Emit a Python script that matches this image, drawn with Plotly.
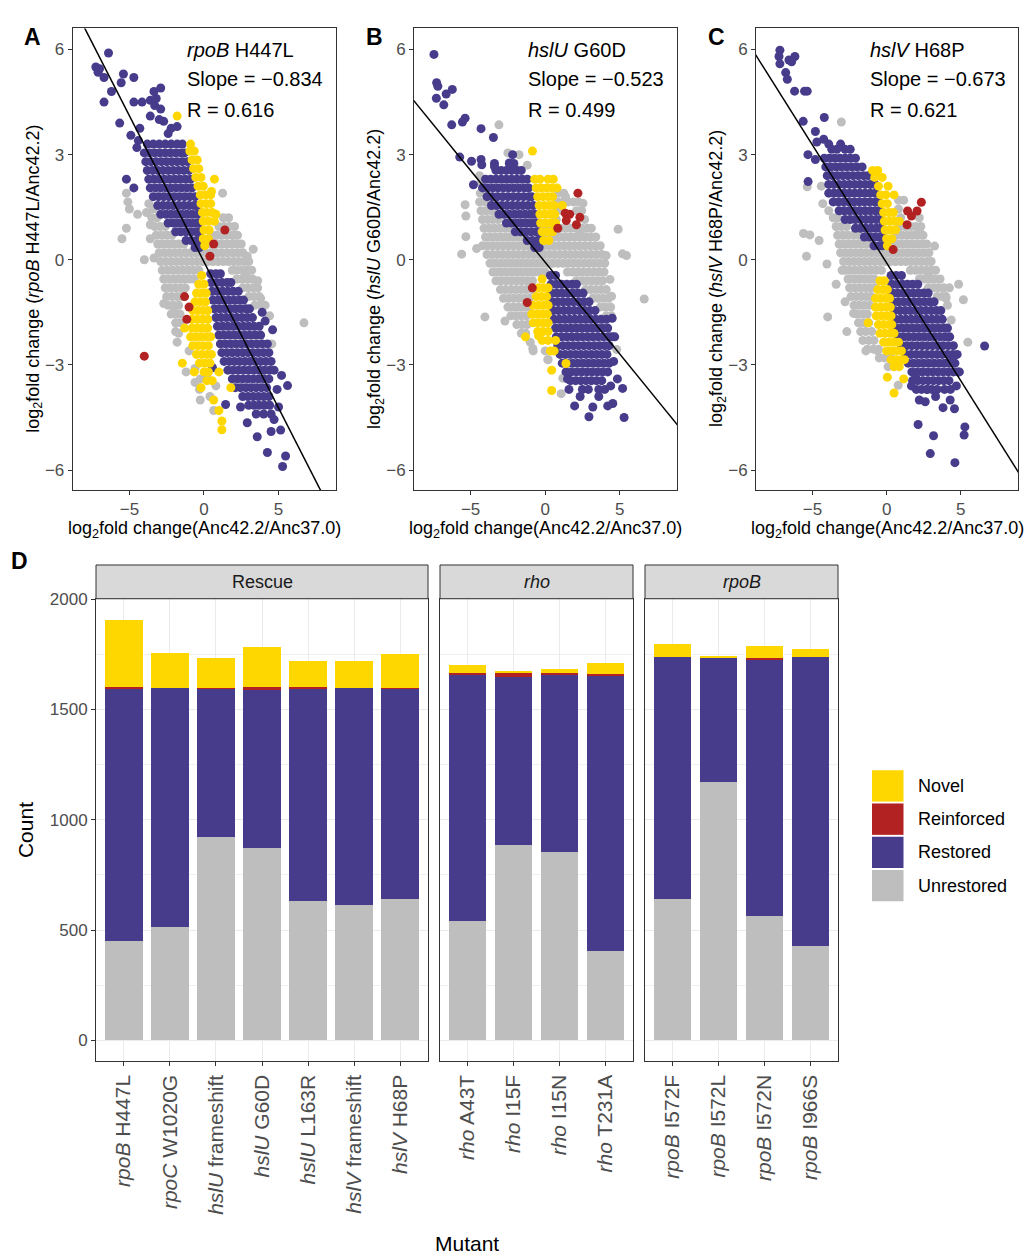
import plotly.graph_objects as go

W, H = 1030, 1256
FONT = "Liberation Sans, Arial, Helvetica, sans-serif"
TICKC = "#4D4D4D"
FRAME = "#333333"

# ---------------- category colours ----------------
categories = ["Novel", "Reinforced", "Restored", "Unrestored"]
cat_colors = ["#FFD700", "#B22222", "#463C8B", "#BEBEBE"]
COL = dict(zip(categories, cat_colors))

# ---------------- panels A-C: fit statistics ----------------
scatter_genes = ["rpoB", "hslU", "hslV"]
scatter_muts = ["H447L", "G60D", "H68P"]
slopes = [-0.834, -0.523, -0.673]
r_values = [0.616, 0.499, 0.621]
intercepts = [-0.06, -0.07, -0.09]
panel_letters = ["A", "B", "C"]

# ---------------- panel A points (rows: y, [x...]) + single points ----------------
A_unres_rows = [
    (1.2, [-3.5, -3.15, 1.3, 1.65]),
    (0.95, [-3.3, -2.95, -2.6, 1.0, 1.35, 1.7, 2.05]),
    (0.7, [-3.2, -2.85, -2.5, -2.15, 0.5, 0.85, 1.2, 1.55, 1.9, 2.25]),
    (0.45, [-3.1, -2.75, -2.4, -2.05, -1.7, -1.35, 0.1, 0.45, 0.8, 1.15, 1.5, 1.85, 2.2, 2.5]),
    (0.2, [-3.0, -2.65, -2.3, -1.95, -1.6, -1.25, -0.9, -0.55, -0.2, 0.15, 0.5, 0.85, 1.2, 1.55, 1.9, 2.25, 2.6]),
    (-0.05, [-2.9, -2.55, -2.2, -1.85, -1.5, -1.15, -0.8, -0.45, -0.1, 0.25, 0.6, 0.95, 1.3, 1.65, 2.0, 2.35, 2.7, 3.0]),
    (-0.3, [-2.8, -2.45, -2.1, -1.75, -1.4, -1.05, -0.7, -0.35, 1.9, 2.2, 2.55, 2.9, 3.2]),
    (-0.55, [-2.7, -2.35, -2.0, -1.65, -1.3, -0.95, -0.65, 2.2, 2.55, 2.9, 3.25]),
    (-0.8, [-2.6, -2.25, -1.9, -1.55, -1.25, 2.6, 2.95, 3.3, 3.6]),
    (-1.05, [-2.5, -2.15, -1.8, -1.5, 3.0, 3.35, 3.7]),
    (-1.3, [-2.4, -2.05, -1.7, 3.4, 3.8]),
    (-1.55, [-2.2, -1.85, -1.6]),
    (-1.8, [-1.9, -1.6]),
    (-2.1, [-1.7]),
]
A_unres_pts = [(-0.6, -3.1), (-0.25, -3.4), (-0.3, -3.7), (-0.25, -4.0), (0.65, -4.3), (-1.8, -2.35),
               (-1.9, -2.05), (0.2, -3.3), (-1.0, -2.6), (0.8, -3.6), (-5.2, 1.9), (-5.1, 1.65), (-5.0, 1.45),
               (-5.2, 0.9), (-5.5, 0.6), (-4.45, 1.3), (-4.0, 0.0), (-3.35, 0.05), (-3.85, 1.35), (1.25, 1.9),
               (2.0, 0.7), (2.9, 0.1), (3.6, -0.6), (3.8, -1.1), (6.7, -1.8), (4.55, -2.4), (2.8, -0.45),
               (-2.7, -1.25), (-2.0, -1.5), (3.3, 0.3), (4.1, -1.3), (4.4, -1.6), (-3.6, 0.6), (-3.7, 1.6),
               (-3.4, 1.45), (-3.6, 1.0), (-1.2, -3.2), (-0.6, -3.5), (0.4, -3.9)]
A_rest_rows = [
    (3.3, [-3.8, -3.4, -3.0, -2.6, -2.2, -1.8, -1.45]),
    (3.05, [-4.0, -3.65, -3.3, -2.95, -2.6, -2.25, -1.9, -1.55, -1.3]),
    (2.8, [-3.9, -3.55, -3.2, -2.85, -2.5, -2.15, -1.8, -1.45, -1.1]),
    (2.55, [-3.8, -3.45, -3.1, -2.75, -2.4, -2.05, -1.7, -1.35, -1.0]),
    (2.3, [-3.7, -3.35, -3.0, -2.65, -2.3, -1.95, -1.6, -1.25, -0.9]),
    (2.05, [-3.6, -3.25, -2.9, -2.55, -2.2, -1.85, -1.5, -1.15, -0.8]),
    (1.8, [-3.4, -3.05, -2.7, -2.35, -2.0, -1.65, -1.3, -0.95, -0.6]),
    (1.55, [-3.1, -2.75, -2.4, -2.05, -1.7, -1.35, -1.0, -0.65, -0.45]),
    (1.3, [-2.9, -2.55, -2.2, -1.85, -1.5, -1.15, -0.8, -0.45]),
    (1.05, [-2.4, -2.05, -1.7, -1.35, -1.0, -0.65, -0.35]),
    (0.8, [-1.9, -1.55, -1.2, -0.85, -0.5, -0.3]),
    (0.55, [-1.2, -0.85, -0.5, -0.3]),
    (0.35, [-0.6, -0.3]),
    (-0.4, [0.45, 0.8, 1.1]),
    (-0.65, [0.5, 0.85, 1.2, 1.55, 1.8]),
    (-0.9, [0.55, 0.9, 1.25, 1.6, 1.95, 2.3]),
    (-1.15, [0.6, 0.95, 1.3, 1.65, 2.0, 2.35, 2.65]),
    (-1.4, [0.7, 1.05, 1.4, 1.75, 2.1, 2.45, 2.8, 3.05]),
    (-1.65, [0.8, 1.15, 1.5, 1.85, 2.2, 2.55, 2.9, 3.25]),
    (-1.9, [0.9, 1.25, 1.6, 1.95, 2.3, 2.65, 3.0, 3.35, 3.7]),
    (-2.15, [1.0, 1.35, 1.7, 2.05, 2.4, 2.75, 3.1, 3.45, 3.8]),
    (-2.4, [1.1, 1.45, 1.8, 2.15, 2.5, 2.85, 3.2, 3.55, 3.9, 4.25]),
    (-2.65, [1.2, 1.55, 1.9, 2.25, 2.6, 2.95, 3.3, 3.65, 4.0, 4.35]),
    (-2.9, [1.35, 1.7, 2.05, 2.4, 2.75, 3.1, 3.45, 3.8, 4.15, 4.5]),
    (-3.15, [1.6, 1.95, 2.3, 2.65, 3.0, 3.35, 3.7, 4.05, 4.4, 4.7]),
    (-3.4, [1.9, 2.25, 2.6, 2.95, 3.3, 3.65, 4.0, 4.35]),
    (-3.65, [2.1, 2.45, 2.8, 3.15, 3.5, 3.85, 4.2]),
    (-3.9, [2.6, 2.95, 3.3, 3.65, 4.0, 4.35]),
    (-4.15, [3.0, 3.35, 3.7, 4.05, 4.4]),
    (-4.4, [3.5, 4.0, 4.5]),
]
A_rest_pts = [(-6.4, 5.9), (-7.25, 5.5), (-7.1, 5.35), (-6.7, 5.2), (-6.2, 4.8), (-6.7, 4.5), (-5.4, 5.3),
              (-4.7, 5.2), (-5.55, 5.05), (-4.7, 4.5), (-4.15, 4.5), (-3.35, 4.8), (-2.9, 4.9), (-3.3, 4.4),
              (-2.9, 4.3), (-2.7, 3.95), (-1.8, 3.8), (-5.65, 3.9), (-4.9, 3.55), (-4.3, 3.75), (-5.2, 2.3),
              (-4.7, 2.05), (-3.6, 4.1), (-3.0, 4.0), (-2.4, 3.6), (-2.2, 3.75), (-7.0, 5.45), (-3.6, 4.55),
              (-3.2, 4.6), (-4.4, 3.4), (-4.5, 3.2), (3.57, -5.05), (4.25, -5.5), (5.47, -5.6), (5.27, -5.9),
              (5.14, -4.86), (4.7, -4.56), (5.6, -3.59), (4.9, -3.7), (0.57, -3.08), (1.45, -4.13),
              (2.45, -4.2), (2.9, -4.65), (5.0, -4.2), (4.5, -4.9), (5.2, -3.3), (4.6, -2.0), (3.9, -1.5),
              (4.1, -1.75)]
A_novel_rows = [
    (3.3, [-0.9]), (3.1, [-0.95, -0.65]), (2.85, [-0.8, -0.45]), (2.6, [-0.7, -0.35]),
    (2.35, [-0.55, -0.2]), (2.1, [-0.4, -0.05]), (1.85, [-0.25, 0.1, 0.45]), (1.6, [-0.2, 0.15, 0.45]),
    (1.35, [-0.1, 0.2, 0.55]), (1.1, [-0.05, 0.3, 0.7]), (0.85, [0.0, 0.35]), (0.6, [-0.05, 0.3]),
    (0.4, [0.05]),
    (-0.45, [-0.15]), (-0.7, [-0.35, 0.0]), (-0.95, [-0.5, -0.15, 0.15]), (-1.2, [-0.6, -0.25, 0.1]),
    (-1.45, [-0.75, -0.4, -0.05, 0.25]), (-1.7, [-0.8, -0.45, -0.1, 0.25]),
    (-1.95, [-1.3, -0.8, -0.45, -0.1, 0.25]), (-2.2, [-0.9, -0.55, -0.2, 0.15, 0.45]),
    (-2.45, [-0.75, -0.4, -0.05, 0.3]), (-2.7, [-0.5, -0.15, 0.2, 0.5]), (-2.95, [-1.45, -0.3, 0.05, 0.4]),
    (-3.2, [-0.65, 0.0, 0.3, 1.0]), (-3.45, [0.2, 0.55]), (-3.65, [-0.2, 1.8]), (-4.0, [0.65]),
    (-4.3, [1.0]), (-4.6, [1.2]), (-4.85, [1.2]),
]
A_novel_pts = [(-1.8, 4.1), (0.8, 1.3), (0.7, 2.3), (0.5, 1.95)]
A_reinf_pts = [(1.4, 0.85), (0.65, 0.45), (0.4, 0.1), (-1.3, -1.05), (-1.0, -1.35), (-1.15, -1.7), (-4.0, -2.75)]

# ---------------- panel B points ----------------
B_unres_rows = [
    (2.2, [-4.3]),
    (1.9, [-4.35, -4.0, 0.9, 1.25]),
    (1.65, [-4.4, -4.05, -3.7, 0.85, 1.2, 1.55, 1.9, 2.25]),
    (1.4, [-4.3, -3.95, -3.6, 0.8, 1.15, 2.1, 2.45]),
    (1.15, [-4.2, -3.85, -3.5, -3.15, 0.75, 2.65]),
    (0.9, [-4.1, -3.75, -3.4, -3.05, -2.7, -2.35, 0.0, 0.35, 0.7, 1.05, 1.4, 1.75, 2.1, 2.45, 2.8, 3.1]),
    (0.65, [-4.0, -3.65, -3.3, -2.95, -2.6, -2.25, -1.9, -1.6, -0.1, 0.25, 0.6, 0.95, 1.3, 1.65, 2.0, 2.35, 2.7, 3.05, 3.4]),
    (0.4, [-4.2, -3.85, -3.5, -3.15, -2.8, -2.45, -2.1, -1.75, -1.4, -1.1, -0.15, 0.2, 0.55, 0.9, 1.25, 1.6, 1.95, 2.3, 2.65, 3.0, 3.35, 3.7]),
    (0.15, [-3.9, -3.55, -3.2, -2.85, -2.5, -2.15, -1.8, -1.45, -1.1, -0.75, -0.4, -0.05, 0.3, 0.65, 1.0, 1.35, 1.7, 2.05, 2.4, 2.75, 3.1, 3.45, 3.8]),
    (-0.1, [-3.7, -3.35, -3.0, -2.65, -2.3, -1.95, -1.6, -1.25, -0.9, -0.55, -0.2, 0.15, 0.5, 0.85, 1.2, 1.55, 1.9, 2.25, 2.6, 2.95, 3.3, 3.65, 4.0]),
    (-0.35, [-3.5, -3.15, -2.8, -2.45, -2.1, -1.75, -1.4, -1.05, -0.7, -0.35, 0.0, 1.5, 1.85, 2.2, 2.55, 2.9, 3.25, 3.6, 3.95]),
    (-0.6, [-3.3, -2.95, -2.6, -2.25, -1.9, -1.55, -1.2, -0.85, 2.1, 2.45, 2.8, 3.15, 3.5, 3.85]),
    (-0.85, [-3.0, -2.65, -2.3, -1.95, -1.6, -1.25, -0.9, 2.7, 3.05, 3.4, 3.75, 4.1]),
    (-1.1, [-2.8, -2.45, -2.1, -1.75, -1.4, -1.05, 3.2, 3.55, 3.9, 4.25]),
    (-1.35, [-2.5, -2.15, -1.8, -1.45, -1.1, 3.7, 4.05, 4.4]),
    (-1.6, [-2.3, -1.95, -1.6, -1.25, 4.1, 4.45]),
    (-1.85, [-1.9, -1.55, -1.2]),
    (-2.1, [-1.6, -1.3]),
    (-2.35, [-1.0]),
    (-2.6, [-0.8, 0.0]),
    (-2.85, [0.2]),
]
B_unres_pts = [(-3.1, 3.85), (-2.5, 3.05), (-1.75, 3.0), (-5.37, 1.57), (-5.32, 1.25), (-5.32, 0.66),
               (-5.6, 0.16), (-4.6, 0.32), (-4.04, -1.63), (-2.7, -1.75), (1.37, 1.8), (2.54, 1.61),
               (2.36, 0.81), (4.9, 0.87), (4.1, 0.12), (5.19, 0.17), (5.46, 0.12), (6.65, -1.12),
               (4.35, -0.56), (4.46, -1.04), (4.8, -2.56), (-0.83, -2.53), (0.18, -2.85), (1.19, -3.38),
               (1.08, -3.82), (-2.0, 2.6), (-4.4, 2.4), (-1.2, 2.7)]
B_rest_rows = [
    (2.75, [-3.4, -2.4, -2.1]),
    (2.55, [-3.3, -2.95, -2.6, -2.25, -1.9, -1.6]),
    (2.3, [-4.0, -3.65, -3.3, -2.95, -2.6, -2.25, -1.9, -1.55, -1.2]),
    (2.05, [-4.2, -3.85, -3.5, -3.15, -2.8, -2.45, -2.1, -1.75, -1.4, -1.1]),
    (1.8, [-3.9, -3.55, -3.2, -2.85, -2.5, -2.15, -1.8, -1.45, -1.1, -0.9]),
    (1.55, [-3.6, -3.25, -2.9, -2.55, -2.2, -1.85, -1.5, -1.15, -0.8]),
    (1.3, [-3.1, -2.75, -2.4, -2.05, -1.7, -1.35, -1.0, -0.7]),
    (1.05, [-2.6, -2.25, -1.9, -1.55, -1.2, -0.85, -0.55]),
    (0.8, [-2.0, -1.65, -1.3, -0.95, -0.6, -0.4]),
    (0.55, [-1.2, -0.85, -0.5, -0.35]),
    (0.35, [-0.7, -0.4]),
    (-0.45, [0.35, 0.7]),
    (-0.7, [0.4, 0.75, 1.1, 1.45, 1.8, 2.1]),
    (-0.95, [0.45, 0.8, 1.15, 1.5, 1.85, 2.2, 2.55]),
    (-1.2, [0.5, 0.85, 1.2, 1.55, 1.9, 2.25, 2.6, 2.95]),
    (-1.45, [0.55, 0.9, 1.25, 1.6, 1.95, 2.3, 2.65, 3.0, 3.35]),
    (-1.7, [0.6, 0.95, 1.3, 1.65, 2.0, 2.35, 2.7, 3.05, 3.4, 3.75, 4.1]),
    (-1.95, [0.7, 1.05, 1.4, 1.75, 2.1, 2.45, 2.8, 3.15, 3.5, 3.85, 4.2]),
    (-2.2, [0.75, 1.1, 1.45, 1.8, 2.15, 2.5, 2.85, 3.2, 3.55, 3.9, 4.25, 4.5]),
    (-2.45, [0.85, 1.2, 1.55, 1.9, 2.25, 2.6, 2.95, 3.3, 3.65, 4.0, 4.3]),
    (-2.7, [1.0, 1.35, 1.7, 2.05, 2.4, 2.75, 3.1, 3.45, 3.8, 4.15]),
    (-2.95, [1.15, 1.5, 1.85, 2.2, 2.55, 2.9, 3.25, 3.6, 3.95, 4.3]),
    (-3.2, [1.4, 1.75, 2.1, 2.45, 2.8, 3.15, 3.5, 3.85, 4.2]),
    (-3.45, [1.7, 2.05, 2.4, 2.75, 3.1, 3.45, 3.8]),
    (-3.7, [2.5, 2.9, 3.6, 4.0]),
]
B_rest_pts = [(-7.46, 5.86), (-7.28, 5.05), (-7.2, 4.95), (-7.3, 4.61), (-6.8, 4.42), (-6.64, 4.73),
              (-6.23, 4.86), (-6.27, 3.85), (-5.55, 3.93), (-5.37, 4.04), (-4.3, 3.74), (-3.47, 3.49),
              (-5.73, 2.93), (-4.94, 2.81), (-4.3, 2.86), (-4.25, 2.71), (-3.4, 2.66), (-2.18, 3.0),
              (-2.4, 2.76), (-4.81, 2.14), (1.98, -4.17), (2.94, -4.48), (3.2, -4.2), (3.6, -3.9),
              (2.35, -3.9), (4.2, -4.17), (4.54, -4.1), (5.2, -3.67), (5.3, -4.5), (4.85, -3.4),
              (4.5, -1.67), (4.67, -2.2), (4.4, -3.6), (4.6, -2.9), (1.5, -3.4), (1.6, -3.7)]
B_novel_rows = [
    (2.3, [-0.7, -0.35, 0.2, 0.55]), (2.05, [-0.6, -0.25, 0.1, 0.45, 0.8]), (1.8, [-0.5, -0.15, 0.2, 0.5]),
    (1.55, [-0.4, -0.05, 0.3, 0.6, 1.15]), (1.3, [-0.35, 0.0, 0.35, 0.65]), (1.05, [-0.3, 0.05, 0.4, 0.7]),
    (0.8, [-0.2, 0.15, 0.5]), (0.55, [-0.1, 0.25]),
    (-0.55, [-0.2]), (-0.8, [-0.45, -0.1, 0.2]), (-1.05, [-0.6, -0.25, 0.1]),
    (-1.3, [-0.8, -0.45, -0.1, 0.2]), (-1.55, [-0.9, -0.55, -0.2, 0.15]), (-1.8, [-0.8, -0.45, -0.1, 0.2]),
    (-2.05, [-0.5, -0.15, 0.2]), (-2.3, [-0.2, 0.2, 0.7]), (-2.6, [0.35, 0.6]),
]
B_novel_pts = [(-0.85, 3.1), (-1.32, -2.2), (-0.44, -2.17), (0.44, -3.15), (0.44, -3.73), (1.4, -2.96)]
B_reinf_pts = [(2.2, 1.9), (1.35, 1.33), (1.65, 1.3), (1.42, 1.12), (2.33, 1.21), (2.1, 1.0), (0.85, 0.9),
               (-0.86, -0.8), (-1.2, -1.22)]

# ---------------- panel C points ----------------
C_unres_rows = [
    (1.7, [0.8, 1.15]),
    (1.45, [0.8]),
    (1.2, [-3.6, -3.3, 0.95, 2.2]),
    (0.95, [-3.4, -3.05, -2.7, 0.9, 1.25, 1.6, 1.95, 2.3]),
    (0.7, [-3.3, -2.95, -2.6, -2.25, -1.9, 0.7, 1.05, 1.4, 1.75, 2.1, 2.45]),
    (0.45, [-3.2, -2.85, -2.5, -2.15, -1.8, -1.45, -1.1, 0.25, 0.6, 0.95, 1.3, 1.65, 2.0, 2.35, 2.7]),
    (0.2, [-3.1, -2.75, -2.4, -2.05, -1.7, -1.35, -1.0, -0.65, -0.3, 0.05, 0.4, 0.75, 1.1, 1.45, 1.8, 2.15, 2.5, 2.85]),
    (-0.05, [-2.9, -2.55, -2.2, -1.85, -1.5, -1.15, -0.8, -0.45, -0.1, 0.25, 0.6, 0.95, 1.3, 1.65, 2.0, 2.35, 2.7, 3.0]),
    (-0.3, [-2.8, -2.45, -2.1, -1.75, -1.4, -1.05, -0.7, -0.35, 1.6, 1.95, 2.3, 2.65, 3.0, 3.3]),
    (-0.55, [-2.6, -2.25, -1.9, -1.55, -1.2, -0.85, 2.2, 2.55, 2.9, 3.25, 3.6]),
    (-0.8, [-2.5, -2.15, -1.8, -1.45, -1.1, -0.8, 2.8, 3.15, 3.5, 3.85]),
    (-1.05, [-2.4, -2.05, -1.7, -1.35, -1.05, 3.4, 3.75, 4.0]),
    (-1.3, [-2.2, -1.85, -1.5, -1.15, 4.1]),
    (-1.55, [-2.0, -1.65, -1.3]),
    (-1.8, [-1.9, -1.55, -1.2]),
    (-2.05, [-1.75, -1.4, -1.0]),
    (-2.3, [-1.6, -1.2, -0.85]),
    (-2.55, [-1.3, -0.9, -0.55]),
    (-2.8, [-0.5, -0.15, 0.3]),
    (-3.05, [0.1, 0.5]),
]
C_unres_pts = [(-3.05, 3.93), (-5.6, 0.75), (-5.17, 0.71), (-4.55, 0.55), (-5.4, 0.1), (-4.02, -0.12),
               (-3.4, -0.7), (-3.97, -1.63), (-2.68, -2.05), (-2.23, -1.53), (-1.4, -2.6), (-0.6, -2.6),
               (0.78, -3.58), (2.2, 0.83), (3.23, 0.39), (2.8, -0.46), (4.23, -0.8), (4.85, -0.7),
               (5.17, -1.14), (4.35, -1.72), (5.47, -2.35), (4.0, -1.1), (-5.35, 2.08), (-4.3, 1.6),
               (-3.9, 1.4), (-4.4, 2.1), (-2.8, -1.2), (-3.0, -0.3)]
C_rest_rows = [
    (3.15, [-3.7, -3.35, -2.8, -2.45]),
    (2.9, [-4.2, -3.85, -3.5, -3.15, -2.8, -2.45, -2.1]),
    (2.65, [-4.1, -3.75, -3.4, -3.05, -2.7, -2.35, -2.0, -1.65]),
    (2.4, [-4.0, -3.65, -3.3, -2.95, -2.6, -2.25, -1.9, -1.55, -1.25]),
    (2.15, [-3.9, -3.55, -3.2, -2.85, -2.5, -2.15, -1.8, -1.45, -1.1, -0.8]),
    (1.9, [-3.9, -3.55, -3.2, -2.85, -2.5, -2.15, -1.8, -1.45, -1.1, -0.75]),
    (1.65, [-3.6, -3.25, -2.9, -2.55, -2.2, -1.85, -1.5, -1.15, -0.8, -0.55]),
    (1.4, [-3.2, -2.85, -2.5, -2.15, -1.8, -1.45, -1.1, -0.75, -0.45]),
    (1.15, [-2.8, -2.45, -2.1, -1.75, -1.4, -1.05, -0.7, -0.4]),
    (0.9, [-2.1, -1.75, -1.4, -1.05, -0.7, -0.4]),
    (0.65, [-1.5, -1.15, -0.8, -0.45, -0.3]),
    (0.4, [-0.85, -0.5, -0.3]),
    (-0.45, [0.3, 0.65, 1.0]),
    (-0.7, [0.35, 0.7, 1.05, 1.4, 1.75, 2.1]),
    (-0.95, [0.4, 0.75, 1.1, 1.45, 1.8, 2.15, 2.5, 2.8]),
    (-1.2, [0.45, 0.8, 1.15, 1.5, 1.85, 2.2, 2.55, 2.9, 3.2]),
    (-1.45, [0.55, 0.9, 1.25, 1.6, 1.95, 2.3, 2.65, 3.0, 3.35, 3.65]),
    (-1.7, [0.6, 0.95, 1.3, 1.65, 2.0, 2.35, 2.7, 3.05, 3.4, 3.75]),
    (-1.95, [0.7, 1.05, 1.4, 1.75, 2.1, 2.45, 2.8, 3.15, 3.5, 3.85, 4.1]),
    (-2.2, [0.8, 1.15, 1.5, 1.85, 2.2, 2.55, 2.9, 3.25, 3.6, 3.95, 4.25]),
    (-2.45, [1.0, 1.35, 1.7, 2.05, 2.4, 2.75, 3.1, 3.45, 3.8, 4.15, 4.5]),
    (-2.7, [1.3, 1.65, 2.0, 2.35, 2.7, 3.05, 3.4, 3.75, 4.1, 4.45, 4.75]),
    (-2.95, [1.45, 1.8, 2.15, 2.5, 2.85, 3.2, 3.55, 3.9, 4.25, 4.6]),
    (-3.2, [1.7, 2.05, 2.4, 2.75, 3.1, 3.45, 3.8, 4.15, 4.5, 4.8]),
    (-3.45, [1.75, 2.1, 2.45, 2.8, 3.15, 3.5, 3.85, 4.2]),
    (-3.7, [2.0, 2.35, 2.7, 3.05, 3.4, 3.9, 4.3]),
]
C_rest_pts = [(-7.19, 5.98), (-7.25, 5.8), (-7.19, 5.59), (-6.58, 5.7), (-6.18, 5.8), (-6.4, 5.65),
              (-6.8, 5.34), (-6.69, 5.15), (-6.2, 4.81), (-5.53, 4.81), (-5.35, 4.81), (-5.62, 3.95),
              (-4.2, 4.06), (-4.8, 3.66), (-4.24, 3.44), (-4.7, 3.36), (-5.3, 3.0), (-4.8, 2.86),
              (-5.29, 2.23), (-3.9, 3.3), (-3.1, 3.3), (2.12, -4.7), (3.16, -5.02), (2.94, -5.53),
              (4.6, -5.79), (5.27, -4.77), (5.22, -5.0), (6.6, -2.46), (4.57, -4.25), (3.8, -4.22),
              (4.9, -3.2), (1.67, -3.6), (1.96, -3.35), (2.75, -3.7), (3.3, -3.9), (4.28, -4.0),
              (4.45, -2.86), (2.2, -4.0), (2.6, -4.05), (4.7, -3.6)]
C_novel_rows = [
    (2.55, [-0.95, -0.6]), (2.35, [-0.8, -0.3]), (2.1, [-0.55, 0.1]), (1.85, [-0.4, -0.05, 0.5]),
    (1.6, [-0.3, 0.05]), (1.35, [-0.2, 0.15, 0.45]), (1.1, [-0.15, 0.2, 0.55, 0.85]),
    (0.85, [-0.1, 0.25, 0.6]), (0.6, [0.0, 0.35]), (0.4, [0.05]),
    (-0.6, [-0.45, -0.15]), (-0.85, [-0.6, -0.25, 0.05]), (-1.1, [-0.75, -0.4, -0.05, 0.2]),
    (-1.35, [-0.75, -0.4, -0.05, 0.25]), (-1.6, [-0.7, -0.35, 0.0, 0.3]), (-1.85, [-0.55, -0.2, 0.15, 0.35]),
    (-2.1, [-0.45, -0.1, 0.25, 0.5]), (-2.35, [-0.2, 0.15, 0.5, 0.8]), (-2.6, [0.0, 0.35, 0.7, 1.0]),
    (-2.85, [0.3, 0.65, 1.0, 1.2]), (-3.05, [0.5, 0.85]),
]
C_novel_pts = [(-1.25, -1.8), (0.05, -3.35), (0.5, -3.8), (1.15, -3.4)]
C_reinf_pts = [(2.34, 1.64), (2.05, 1.39), (1.67, 1.25), (1.41, 1.39), (1.38, 1.0), (0.44, 0.29)]

# ---------------- panel D data ----------------
rescue_mutants = ["rpoB H447L", "rpoC W1020G", "hslU frameshift", "hslU G60D", "hslU L163R",
                  "hslV frameshift", "hslV H68P"]
rescue_unrestored = [449, 516, 921, 872, 633, 615, 642]
rescue_restored = [1146, 1082, 674, 715, 965, 981, 953]
rescue_reinforced = [7, 0, 2, 15, 4, 0, 3]
rescue_novel = [305, 160, 138, 183, 120, 122, 156]

rho_mutants = ["rho A43T", "rho I15F", "rho I15N", "rho T231A"]
rho_unrestored = [543, 885, 854, 404]
rho_restored = [1116, 762, 805, 1252]
rho_reinforced = [6, 21, 6, 7]
rho_novel = [35, 5, 17, 50]

rpoB_mutants = ["rpoB I572F", "rpoB I572L", "rpoB I572N", "rpoB I966S"]
rpoB_unrestored = [642, 1173, 566, 426]
rpoB_restored = [1094, 563, 1164, 1310]
rpoB_reinforced = [0, 0, 5, 0]
rpoB_novel = [63, 9, 55, 40]

facet_labels = ["Rescue", "<i>rho</i>", "<i>rpoB</i>"]


# ---------------- helpers ----------------
def pxx(x):
    return x / W


def pyy(y):
    return 1 - y / H


def expand(rows, pts):
    xs, ys = [], []
    for y, row in rows:
        for x in row:
            xs.append(x)
            ys.append(y)
    for x, y in pts:
        xs.append(x)
        ys.append(y)
    return xs, ys


def ital(label):
    g, rest = label.split(" ", 1)
    return "<i>%s</i> %s" % (g, rest)


fig = go.Figure()

scatter_sets = [
    [("Unrestored", A_unres_rows, A_unres_pts), ("Restored", A_rest_rows, A_rest_pts),
     ("Novel", A_novel_rows, A_novel_pts), ("Reinforced", [], A_reinf_pts)],
    [("Unrestored", B_unres_rows, B_unres_pts), ("Restored", B_rest_rows, B_rest_pts),
     ("Novel", B_novel_rows, B_novel_pts), ("Reinforced", [], B_reinf_pts)],
    [("Unrestored", C_unres_rows, C_unres_pts), ("Restored", C_rest_rows, C_rest_pts),
     ("Novel", C_novel_rows, C_novel_pts), ("Reinforced", [], C_reinf_pts)],
]

# pixel geometry of scatter panels
sc_x = [(72.7, 336.0), (414.0, 677.0), (756.0, 1018.0)]
sc_y = (19.6, 484.5)
XR = [-8.8, 8.85]
YR = [-6.57, 6.6]

layout = dict(
    width=W, height=H, margin=dict(l=0, r=0, t=0, b=0, pad=0),
    paper_bgcolor="white", plot_bgcolor="white",
    font=dict(family=FONT, color="black"),
    showlegend=False, barmode="stack", bargap=0.18,
)

annotations = []
shapes = []

for i in range(3):
    sfx = "" if i == 0 else str(i + 1)
    xa, ya = "x" + sfx, "y" + sfx
    for cat, rows, pts in scatter_sets[i]:
        xs, ys = expand(rows, pts)
        fig.add_trace(go.Scatter(x=xs, y=ys, mode="markers", xaxis=xa, yaxis=ya,
                                 marker=dict(size=9, color=COL[cat], line=dict(width=0)),
                                 hoverinfo="skip", name=cat))
    lx = [XR[0] - 0.5, XR[1] + 0.5]
    ly = [intercepts[i] + slopes[i] * v for v in lx]
    fig.add_trace(go.Scatter(x=lx, y=ly, mode="lines", xaxis=xa, yaxis=ya,
                             line=dict(color="black", width=1.5), hoverinfo="skip"))
    x0, x1 = sc_x[i]
    layout["xaxis" + sfx] = dict(domain=[pxx(x0), pxx(x1)], range=XR, anchor=ya,
                                 showgrid=False, zeroline=False, showline=True, mirror=True,
                                 linecolor=FRAME, linewidth=1, ticks="outside", ticklen=4,
                                 tickcolor=FRAME, tickvals=[-5, 0, 5],
                                 tickfont=dict(size=17, color=TICKC, family=FONT))
    layout["yaxis" + sfx] = dict(domain=[pyy(sc_y[1]), pyy(sc_y[0])], range=YR, anchor=xa,
                                 showgrid=False, zeroline=False, showline=True, mirror=True,
                                 linecolor=FRAME, linewidth=1, ticks="outside", ticklen=4,
                                 tickcolor=FRAME, tickvals=[-6, -3, 0, 3, 6],
                                 tickfont=dict(size=17, color=TICKC, family=FONT))
    # panel letter
    annotations.append(dict(text="<b>%s</b>" % panel_letters[i], x=pxx(x0 - 40), y=pyy(28),
                            xref="paper", yref="paper", showarrow=False, xanchor="center",
                            yanchor="middle", font=dict(size=23, family=FONT)))
    # annotation text
    tx = x0 + 112
    slope_txt = ("%.3f" % slopes[i]).replace("-", "\u2212")
    for yy, txt in [(41, "<i>%s</i> %s" % (scatter_genes[i], scatter_muts[i])),
                    (71, "Slope = %s" % slope_txt),
                    (101.5, "R = %.3f" % r_values[i])]:
        annotations.append(dict(text=txt, x=pxx(tx), y=pyy(yy), xref="paper", yref="paper",
                                showarrow=False, xanchor="left", yanchor="middle",
                                font=dict(size=20, family=FONT)))
    # axis titles
    annotations.append(dict(text="log<sub>2</sub>fold change(Anc42.2/Anc37.0)",
                            x=pxx((x0 + x1) / 2), y=pyy(524), xref="paper", yref="paper",
                            showarrow=False, xanchor="center", yanchor="middle",
                            font=dict(size=18, family=FONT)))
    annotations.append(dict(text="log<sub>2</sub>fold change (<i>%s</i> %s/Anc42.2)" % (scatter_genes[i], scatter_muts[i]),
                            x=pxx(x0 - 39), y=pyy(272), xref="paper", yref="paper", textangle=-90,
                            showarrow=False, xanchor="center", yanchor="middle",
                            font=dict(size=18, family=FONT)))

# ---------------- panel D ----------------
facets = [
    (rescue_mutants, rescue_unrestored, rescue_restored, rescue_reinforced, rescue_novel, (96.0, 428.0)),
    (rho_mutants, rho_unrestored, rho_restored, rho_reinforced, rho_novel, (440.0, 633.0)),
    (rpoB_mutants, rpoB_unrestored, rpoB_restored, rpoB_reinforced, rpoB_novel, (645.0, 838.0)),
]
d_top, d_bot = 594.0, 1060.0
strip_top = 560.0
BAR_YR = [-95.35, 2002.35]

for j, (muts, unr, res, rei, nov, (x0, x1)) in enumerate(facets):
    k = j + 4
    xa, ya = "x%d" % k, "y%d" % k
    for cat, vals in [("Unrestored", unr), ("Restored", res), ("Reinforced", rei), ("Novel", nov)]:
        fig.add_trace(go.Bar(x=muts, y=vals, xaxis=xa, yaxis=ya, width=0.82,
                             marker=dict(color=COL[cat], line=dict(width=0)), name=cat,
                             hoverinfo="skip"))
    layout["xaxis%d" % k] = dict(domain=[pxx(x0), pxx(x1)], anchor=ya, type="category",
                                 range=[-0.6, len(muts) - 0.4], showgrid=True,
                                 gridcolor="#EBEBEB", gridwidth=1.1, zeroline=False,
                                 showline=True, mirror=True, linecolor=FRAME, linewidth=1,
                                 ticks="outside", ticklen=4, tickcolor=FRAME,
                                 tickvals=muts, ticktext=[ital(m) for m in muts], tickangle=-90,
                                 tickfont=dict(size=21, color=TICKC, family=FONT))
    yax = dict(domain=[pyy(d_bot), pyy(d_top)], anchor=xa, range=BAR_YR, showgrid=True,
               gridcolor="#EBEBEB", gridwidth=1.1, zeroline=False, showline=True, mirror=True,
               linecolor=FRAME, linewidth=1, tickvals=[0, 500, 1000, 1500, 2000],
               minor=dict(tickvals=[250, 750, 1250, 1750], showgrid=True, gridcolor="#F0F0F0",
                          gridwidth=0.7, ticks=""),
               tickfont=dict(size=17, color=TICKC, family=FONT))
    if j == 0:
        yax.update(ticks="outside", ticklen=4, tickcolor=FRAME, showticklabels=True)
    else:
        yax.update(ticks="", showticklabels=False)
    layout["yaxis%d" % k] = yax
    # strip
    shapes.append(dict(type="rect", xref="paper", yref="paper", x0=pxx(x0), x1=pxx(x1),
                       y0=pyy(d_top), y1=pyy(strip_top), fillcolor="#D9D9D9",
                       line=dict(color=FRAME, width=1), layer="above"))
    annotations.append(dict(text=facet_labels[j], x=pxx((x0 + x1) / 2), y=pyy((strip_top + d_top) / 2),
                            xref="paper", yref="paper", showarrow=False, xanchor="center",
                            yanchor="middle", font=dict(size=18, family=FONT, color="#1A1A1A")))

# panel D letter + axis titles
annotations.append(dict(text="<b>D</b>", x=pxx(19), y=pyy(556), xref="paper", yref="paper",
                        showarrow=False, xanchor="center", yanchor="middle", font=dict(size=23, family=FONT)))
annotations.append(dict(text="Count", x=pxx(25), y=pyy(827), xref="paper", yref="paper", textangle=-90,
                        showarrow=False, xanchor="center", yanchor="middle", font=dict(size=21, family=FONT)))
annotations.append(dict(text="Mutant", x=pxx(467), y=pyy(1243), xref="paper", yref="paper",
                        showarrow=False, xanchor="center", yanchor="middle", font=dict(size=21, family=FONT)))

# manual legend
leg_y = [782.5, 816.0, 849.5, 883.0]
for cat, col, yc in zip(categories, cat_colors, leg_y):
    shapes.append(dict(type="rect", xref="paper", yref="paper", x0=pxx(872), x1=pxx(903.5),
                       y0=pyy(yc + 15.8), y1=pyy(yc - 15.8), fillcolor=col, line=dict(width=0)))
    annotations.append(dict(text=cat, x=pxx(916), y=pyy(yc), xref="paper", yref="paper",
                            showarrow=False, xanchor="left", yanchor="middle",
                            font=dict(size=18, family=FONT)))

layout["annotations"] = annotations
layout["shapes"] = shapes
fig.update_layout(**layout)

post = ("document.documentElement.style.margin='0px';document.documentElement.style.padding='0px';"
        "document.body.style.margin='0px';document.body.style.padding='0px';"
        "document.body.style.overflow='hidden';"
        "var gd=document.getElementById('{plot_id}');"
        "gd.style.position='absolute';gd.style.left='0px';gd.style.top='0px';")

fig.write_html("out.html", config={"displayModeBar": False}, post_script=post)
